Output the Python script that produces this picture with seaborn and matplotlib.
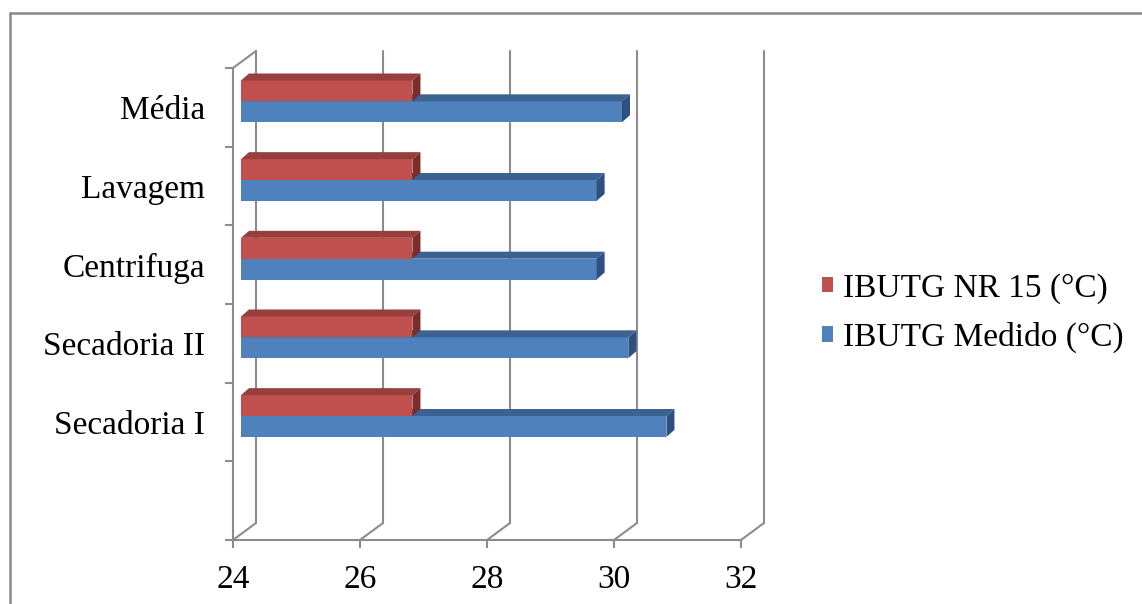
import numpy as np
import pandas as pd
import matplotlib
matplotlib.use("Agg")
import matplotlib.pyplot as plt
from matplotlib.patches import Polygon, Patch
from matplotlib.lines import Line2D
import seaborn as sns

# ---------------- data ----------------
categories = ["Média", "Lavagem", "Centrifuga", "Secadoria II", "Secadoria I"]
ibutg_nr15 = [26.7, 26.7, 26.7, 26.7, 26.7]
ibutg_medido = [30.0, 29.6, 29.6, 30.1, 30.7]
series_names = ["IBUTG NR 15 (°C)", "IBUTG Medido (°C)"]
x_ticks = [24, 26, 28, 30, 32]

df = pd.DataFrame({
    "local": categories * 2,
    "valor": ibutg_nr15 + ibutg_medido,
    "serie": [series_names[0]] * len(categories) + [series_names[1]] * len(categories),
})

# ---------------- style ----------------
sns.set_style("white")
plt.rcParams["font.family"] = ["Liberation Serif", "DejaVu Serif"]
plt.rcParams["text.color"] = "black"
plt.rcParams["xtick.color"] = "black"
plt.rcParams["ytick.color"] = "black"
FS = 24
GRID = "#8c8c8c"
RED, RED_TOP, RED_SIDE = "#c0504d", "#963f3c", "#7c2d2b"
BLUE, BLUE_TOP, BLUE_SIDE = "#4f81bd", "#3b6391", "#2d5080"

W, H = 1142, 604
fig = plt.figure(figsize=(W / 100, H / 100), dpi=100)
# front plane of the 3D box
L, R, T, B = 233, 741, 68, 540
ax = fig.add_axes([L / W, 1 - B / H, (R - L) / W, (B - T) / H])

sns.barplot(data=df, x="valor", y="local", hue="serie", hue_order=series_names,
            order=categories, palette=[RED, BLUE], orient="h", width=0.53,
            errorbar=None, legend=False, ax=ax, saturation=1, linewidth=0)

ax.set_xlim(x_ticks[0], x_ticks[-1])
ax.set_ylim(len(categories) + 0.5, -0.5)
ppx = (R - L) / (x_ticks[-1] - x_ticks[0])   # pixels per x unit
ppy = (B - T) / (len(categories) + 1)         # pixels per y unit

# depth offsets (pixels -> data)
plane_dx, plane_dy = 23 / ppx, 17 / ppy
bar_off_dx, bar_off_dy = 8 / ppx, 6 / ppy
bar_dx, bar_dy = 8 / ppx, 7 / ppy
x0 = x_ticks[0]
ytop_ax, ybot_ax = -0.5, len(categories) + 0.5

# back wall gridlines + floor diagonals
for xv in x_ticks:
    ax.plot([xv + plane_dx, xv + plane_dx], [ybot_ax - plane_dy, ytop_ax - plane_dy],
            color=GRID, lw=1.5, clip_on=False, zorder=1)
    ax.plot([xv, xv + plane_dx], [ybot_ax, ybot_ax - plane_dy],
            color=GRID, lw=1.5, clip_on=False, zorder=1)
ax.plot([x0, x0 + plane_dx], [ytop_ax, ytop_ax - plane_dy],
        color=GRID, lw=1.5, clip_on=False, zorder=1)

# 3D-look bars derived from seaborn's bars
faces = {0: (RED_TOP, RED_SIDE, 4), 1: (BLUE_TOP, BLUE_SIDE, 2)}
for ci, cont in enumerate(ax.containers):
    top_c, side_c, z = faces[ci]
    for p in cont.patches:
        val = p.get_width()
        p.set_x(x0 + bar_off_dx)
        p.set_width(val - x0)
        p.set_y(p.get_y() - bar_off_dy)
        p.set_zorder(z)
        p.set_clip_on(False)
        xa, xb = p.get_x(), p.get_x() + p.get_width()
        yt, yb = p.get_y(), p.get_y() + p.get_height()
        ax.add_patch(Polygon([(xa, yt), (xb, yt), (xb + bar_dx, yt - bar_dy), (xa + bar_dx, yt - bar_dy)],
                             closed=True, facecolor=top_c, edgecolor="none", zorder=z + 0.1, clip_on=False))
        ax.add_patch(Polygon([(xb, yt), (xb + bar_dx, yt - bar_dy), (xb + bar_dx, yb - bar_dy), (xb, yb)],
                             closed=True, facecolor=side_c, edgecolor="none", zorder=z + 0.1, clip_on=False))

# spines / ticks
for s in ["top", "right"]:
    ax.spines[s].set_visible(False)
for s in ["left", "bottom"]:
    ax.spines[s].set_color(GRID)
    ax.spines[s].set_linewidth(1.5)
    ax.spines[s].set_zorder(1)

ax.set_xticks(x_ticks)
ax.set_xticklabels([str(t) for t in x_ticks], fontsize=FS)
ax.tick_params(axis="x", bottom=True, length=6, width=1.5, color=GRID, labelcolor="black",
               pad=12, direction="out")
ax.set_yticks(range(len(categories)))
ax.set_yticklabels(categories, fontsize=FS)
ax.set_yticks(np.arange(-0.5, len(categories) + 1, 1.0), minor=True)
ax.tick_params(axis="y", which="major", left=True, length=0, pad=20, labelcolor="black")
ax.tick_params(axis="y", which="minor", left=True, length=6, width=1.5, color=GRID, direction="out")
ax.set_xlabel("")
ax.set_ylabel("")
ax.grid(False)

# legend
handles = [Patch(facecolor=RED, edgecolor="none"), Patch(facecolor=BLUE, edgecolor="none")]
leg = fig.legend(handles, series_names, loc="center left", bbox_to_anchor=(822 / W, 1 - 313 / H),
                 frameon=False, fontsize=FS, handlelength=0.32, handleheight=0.32,
                 handletextpad=0.3, labelspacing=0.55, borderpad=0, borderaxespad=0)
for t in leg.get_texts():
    t.set_color("black")

# outer frame (left and top edges)
fig.add_artist(Line2D([10 / W, 10 / W], [0, 1 - 13 / H], color="#888888", lw=1.8))
fig.add_artist(Line2D([10 / W, 1], [1 - 13 / H, 1 - 13 / H], color="#888888", lw=1.8))

fig.savefig("out.png", dpi=100)
